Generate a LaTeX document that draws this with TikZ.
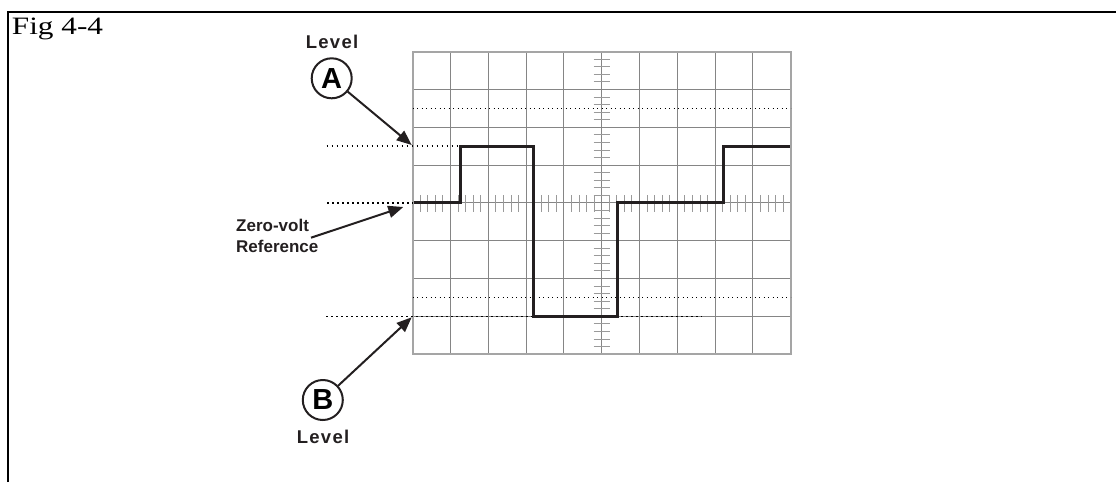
\documentclass[tikz,border=0pt]{standalone}
\usepackage{fontspec}
\usepackage{graphicx}
\setmainfont{Liberation Serif}
\newfontfamily\arialfont{Liberation Sans}
\newfontfamily\arialwide[LetterSpace=7]{Liberation Sans}
\usetikzlibrary{arrows.meta}
\definecolor{inkblack}{HTML}{231F20}
\definecolor{gridgray}{HTML}{858585}
\definecolor{framegray}{HTML}{A5A5A5}
\definecolor{tickgray}{HTML}{9A9A9A}
\begin{document}
\begin{tikzpicture}[x=1pt,y=-1pt,
  gridline/.style={draw=gridgray, line width=1.1pt},
  gridframe/.style={draw=framegray, line width=1.8pt},
  tickmark/.style={draw=tickgray, line width=0.9pt},
  wave/.style={draw=inkblack, line width=3pt, line join=miter},
  leveldots/.style={draw=black, line width=1.6pt, dash pattern=on 1.6pt off 3.4pt},
  refdots/.style={draw=black, line width=1pt, dash pattern=on 1.2pt off 3.3pt},
  pointer/.style={draw=inkblack, line width=2pt, -{Triangle[length=15pt,width=12pt]}},
  lettercircle/.style={circle, draw=inkblack, line width=2pt, minimum size=40pt, inner sep=0pt,
     font=\arialfont\bfseries\fontsize{29}{29}\selectfont},
  levellabel/.style={font=\arialwide\bfseries\fontsize{18.5}{20.5}\selectfont, inner sep=0pt, text=inkblack},
  notelabel/.style={font=\arialfont\bfseries\fontsize{17}{21}\selectfont, inner sep=0pt, text=inkblack},
]
\useasboundingbox (0,0) rectangle (1116,482);
% frame
\draw[line width=2.2pt] (8.3,482) -- (8.3,12) -- (1116,12);
\node[font=\fontsize{25}{25}\selectfont, anchor=base west, inner sep=0pt] (fig) at (11.7,34.5) {\scalebox{1.25}[1]{Fig 4-4}};
% grid
\foreach \i in {1,...,9} \draw[gridline] ({412.7+37.8*\i},51.7) -- ++(0,302.4);
\foreach \j in {1,...,7} \draw[gridline] (412.7,{51.7+37.8*\j}) -- ++(378,0);
% ticks
\foreach \k in {1,...,49} {
  \pgfmathtruncatemacro{\r}{mod(\k,5)}
  \ifnum\r>0 \draw[tickmark] ({412.7+7.56*\k},195) -- ++(0,16.5); \fi
}
\foreach \k in {1,...,39} {
  \pgfmathtruncatemacro{\r}{mod(\k,5)}
  \ifnum\r>0 \draw[tickmark] (593.5,{51.7+7.56*\k}) -- ++(16.5,0); \fi
}
\draw[tickmark] (594.1,195.3) rectangle (609.3,210.5);
\draw[gridframe] (412.7,51.7) rectangle (790.7,354.1);
% reference dotted lines
\draw[refdots] (412.7,108.4) -- (790.7,108.4);
\draw[refdots] (412.7,297.4) -- (790.7,297.4);
\draw[leveldots] (326.7,146.2) -- (460,146.2);
\draw[leveldots] (327,202.9) -- (412.7,202.9);
\draw[leveldots] (326,316.3) -- (701.7,316.3);
% waveform
\draw[wave] (413.5,202.9) -- (460,202.9) -- (460,146.2) -- (533.5,146.2) -- (533.5,316.3)
  -- (617.7,316.3) -- (617.7,202.9) -- (723.3,202.9) -- (723.3,146.2) -- (790,146.2);
% labels
\node[levellabel] (levA) at (332,42) {Level};
\node[lettercircle] (circA) at (331.7,78.3) {A};
\node[lettercircle] (circB) at (322.8,400) {B};
\node[levellabel] (levB) at (323,436.5) {Level};
\node[notelabel, align=left, anchor=north west] (zero) at (236,219) {Zero-volt\\Reference};
% arrows
\coordinate (tipA) at (411.7,145);
\coordinate (tipZ) at (403.3,207);
\coordinate (tipB) at (411.7,317.3);
\coordinate (startZ) at (311,237.7);
\draw[pointer] (circA) -- (tipA);
\draw[pointer] (startZ) -- (tipZ);
\draw[pointer] (circB) -- (tipB);
\end{tikzpicture}
\end{document}
